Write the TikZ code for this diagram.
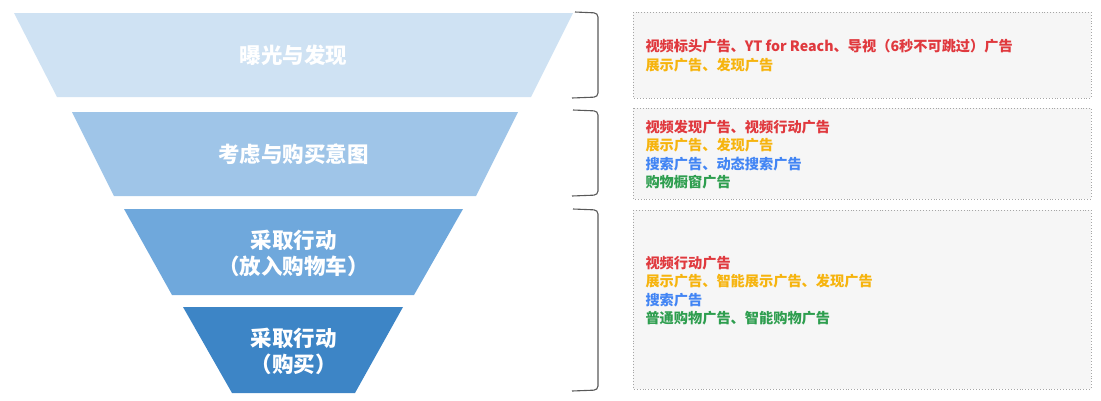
\documentclass[tikz,border=0pt]{standalone}
\usepackage{fontspec}
\setmainfont{Noto Sans CJK SC}
\definecolor{funA}{HTML}{CFE2F3}
\definecolor{funB}{HTML}{9FC5E8}
\definecolor{funC}{HTML}{6FA8DC}
\definecolor{funD}{HTML}{3D85C6}
\definecolor{adred}{HTML}{E0393E}
\definecolor{adyellow}{HTML}{F6B40E}
\definecolor{adblue}{HTML}{4285F4}
\definecolor{adgreen}{HTML}{2E9E4F}
\definecolor{boxgray}{HTML}{F6F6F6}
\tikzset{
  stage/.style={text=white,font=\fontsize{21.5}{26}\selectfont\bfseries,align=center},
  adbox/.style={fill=boxgray,draw=gray!70,line width=0.9pt,dotted},
  adlist/.style={anchor=west,align=left,font=\fontsize{14.2}{18.5}\selectfont\bfseries},
  brack/.style={draw=black!65,line width=1.1pt,rounded corners=4pt}
}
\begin{document}
\begin{tikzpicture}[x=1pt,y=-1pt]
\useasboundingbox (0,0) rectangle (1101,400);
\pgfmathsetmacro{\mx}{293.5}
% funnel
\fill[funA] (14,13)--(573,13)--(531,97)--(57,97)--cycle;
\fill[funB] (72,112)--(518,112)--(476,196)--(114,196)--cycle;
\fill[funC] (124,209)--(463,209)--(414,295)--(172,295)--cycle;
\fill[funD] (183,307)--(403,307)--(355,393)--(232,393)--cycle;
\node[stage] (expose) at (\mx,55) {曝光与发现};
\node[stage] (consider) at (\mx,154) {考虑与购买意图};
\node[stage] (cart) at (\mx,253) {采取行动\\（放入购物车）};
\node[stage] (buy) at (\mx,351) {采取行动\\（购买）};
% brackets
\draw[brack] (575,12)--(598,13)--(598,97)--(572,98);
\draw[brack] (573,110)--(598,111)--(598,195)--(572,196);
\draw[brack] (573,209)--(598,210)--(598,390)--(572,391);
% ad boxes
\draw[adbox] (633,12) rectangle (1091,98);
\draw[adbox] (633,108) rectangle (1091,199);
\draw[adbox] (633,210) rectangle (1091,389);
\node[adlist] (adsA) at (642,55.5) {\color{adred}视频标头广告、YT for Reach、导视（6秒不可跳过）广告\\
  \color{adyellow}展示广告、发现广告};
\node[adlist] (adsB) at (642,154.5) {\color{adred}视频发现广告、视频行动广告\\
  \color{adyellow}展示广告、发现广告\\
  \color{adblue}搜索广告、动态搜索广告\\
  \color{adgreen}购物橱窗广告};
\node[adlist] (adsC) at (642,290.5) {\color{adred}视频行动广告\\
  \color{adyellow}展示广告、智能展示广告、发现广告\\
  \color{adblue}搜索广告\\
  \color{adgreen}普通购物广告、智能购物广告};
\end{tikzpicture}
\end{document}
